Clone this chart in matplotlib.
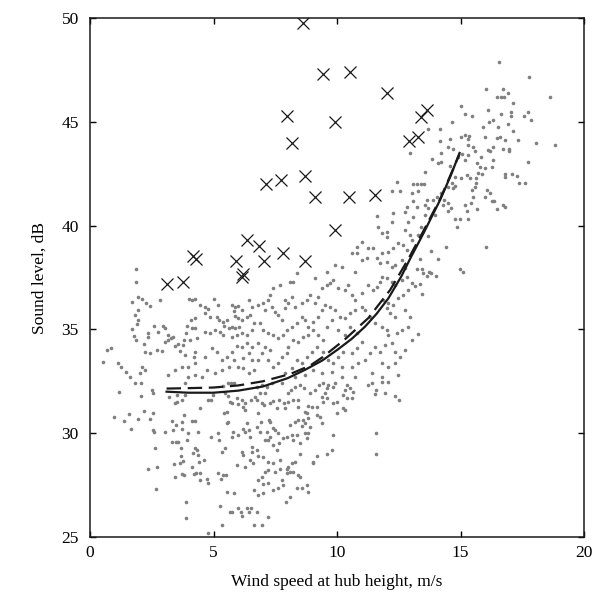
import numpy as np
import matplotlib
matplotlib.use("Agg")
import matplotlib.pyplot as plt

measured = [
    # low wind, upper band
    (1.85, 37.9), (1.85, 37.3), (1.69, 36.34), (1.93, 36.55), (2.09, 36.45), (2.25, 36.29), (2.43, 36.13),
    (2.84, 36.42), (1.96, 35.94), (1.82, 35.7), (1.96, 35.45), (1.89, 35.26), (1.71, 35.0), (1.79, 34.68),
    (1.88, 34.49), (2.2, 34.3), (2.36, 34.65), (2.34, 34.81), (2.58, 35.17), (2.77, 34.89), (2.97, 35.17),
    (3.04, 35.05), (3.15, 34.73), (3.38, 34.65), (3.28, 34.57), (3.58, 34.3), (3.82, 34.49), (3.88, 34.81),
    (3.92, 35.17), (4.12, 35.05), (4.25, 35.05), (4.09, 35.45), (4.25, 35.53), (4.01, 36.45), (4.12, 36.42),
    (4.25, 36.45), (4.46, 36.18), (4.66, 36.06), (4.79, 35.97), (4.66, 35.78), (4.86, 35.62), (5.0, 36.45),
    (5.2, 36.18), (5.13, 35.62), (5.23, 35.45), (5.4, 35.37), (5.54, 35.45), (5.44, 35.17), (5.63, 35.05),
    (5.74, 35.1), (5.88, 35.05), (6.04, 35.1), (5.74, 36.18), (5.88, 36.06), (5.81, 35.9), (5.98, 36.13),
    (6.15, 35.94), (5.88, 35.65), (6.01, 35.53), (6.17, 35.45), (6.35, 35.58), (6.48, 35.7), (6.42, 36.42),
    (6.55, 36.06), (6.62, 35.29), (6.55, 34.97), (6.35, 34.73), (6.15, 34.81), (5.94, 34.73), (5.74, 34.65),
    (5.4, 34.73), (5.27, 34.89), (5.06, 34.97), (4.86, 34.81), (4.66, 34.89), (4.32, 34.57), (4.05, 34.49),
    (3.78, 34.25), (3.65, 33.98), (3.44, 34.2), (3.17, 34.49), (3.04, 34.41), (2.9, 33.98), (2.7, 34.01),
    (2.43, 33.85), (2.23, 33.93), (0.69, 34.01), (0.85, 34.09), (0.54, 33.45), (1.15, 33.4), (1.25, 33.21),
    (1.44, 32.97), (1.62, 32.73), (2.02, 32.89), (2.09, 33.21), (2.23, 33.05), (3.17, 32.81), (3.44, 33.05),
    (3.71, 33.21), (3.98, 33.21), (4.25, 33.37), (4.19, 33.69), (3.85, 33.77), (4.25, 33.93), (4.66, 33.69),
    (4.93, 34.09), (5.13, 33.93), (5.34, 33.53), (5.54, 33.69), (5.74, 33.93), (5.81, 33.53), (6.01, 33.21),
    (6.21, 33.61), (6.42, 33.85), (6.55, 33.53), (6.55, 34.17), (6.35, 34.33), (6.15, 34.17), (5.94, 34.2),
    (5.61, 33.21), (5.34, 33.05), (5.06, 32.89), (4.73, 33.05), (4.52, 32.73), (4.25, 32.81), (3.98, 32.73),
    (6.21, 33.13), (6.42, 32.89), (6.62, 33.05),
    # mid wind, upper band
    (11.67, 39.95), (12.21, 40.19), (12.89, 40.19), (11.81, 39.63), (12.01, 39.71), (12.01, 39.47),
    (12.75, 39.79), (12.96, 39.55), (13.02, 39.31), (11.0, 39.23), (10.8, 38.99), (11.27, 38.91),
    (11.47, 38.91), (11.81, 38.66), (12.08, 38.74), (12.28, 38.91), (12.48, 39.15), (12.69, 39.07),
    (12.82, 38.83), (10.59, 38.66), (10.8, 38.66), (11.0, 38.34), (11.2, 38.42), (11.61, 38.42),
    (11.74, 38.18), (12.01, 38.26), (12.21, 38.02), (12.35, 38.1), (12.62, 38.34), (12.75, 37.94),
    (9.92, 38.1), (10.19, 38.02), (10.73, 37.78), (9.58, 37.78), (9.11, 37.46), (8.37, 37.7), (8.23, 37.3),
    (8.1, 37.3), (7.69, 37.14), (7.42, 36.98), (7.29, 36.66), (7.22, 36.42), (7.02, 36.26), (6.81, 36.18),
    (7.08, 35.94), (7.35, 36.1), (7.49, 35.86), (7.62, 35.7), (7.76, 35.45), (7.89, 36.42), (7.89, 36.02),
    (8.03, 36.26), (8.16, 36.58), (8.3, 36.1), (8.57, 36.26), (8.77, 36.42), (8.91, 36.66), (9.11, 36.26),
    (9.24, 36.58), (9.38, 36.98), (9.58, 37.14), (9.72, 37.22), (9.85, 37.38), (10.05, 36.98), (10.32, 36.9),
    (10.46, 37.14), (10.59, 36.66), (10.73, 36.42), (11.0, 36.74), (11.27, 37.14), (11.47, 36.9),
    (11.61, 37.06), (11.74, 37.3), (11.81, 37.54), (12.01, 37.46), (12.21, 37.3), (12.35, 37.14),
    (12.62, 37.38), (12.82, 37.54), (13.02, 37.22), (12.89, 36.9), (12.69, 36.66), (12.48, 36.5),
    (12.28, 36.18), (12.08, 36.26), (11.88, 36.42), (12.01, 36.02), (12.15, 35.78), (12.35, 35.62),
    (12.75, 35.94), (12.96, 35.62), (12.89, 35.13), (12.62, 34.97), (12.42, 34.81), (12.08, 34.73),
    (12.01, 34.97), (11.81, 35.13), (11.54, 35.29), (11.34, 35.62), (11.13, 35.94), (11.0, 36.1),
    (10.73, 35.94), (10.53, 35.78), (10.32, 35.53), (10.12, 35.62), (9.92, 35.94), (9.72, 36.1),
    (9.51, 36.18), (9.38, 35.94), (9.24, 35.62), (9.04, 35.37), (8.84, 35.13), (8.7, 35.45), (8.57, 35.62),
    (8.37, 35.29), (8.16, 35.13), (7.96, 34.97), (7.83, 34.73), (7.62, 34.57), (7.42, 34.73), (7.22, 34.81),
    (7.02, 34.97), (6.88, 35.29), (6.81, 34.33), (7.08, 34.17), (7.29, 34.01), (6.95, 33.85), (6.81, 33.53),
    (7.22, 33.53), (7.42, 33.21), (7.62, 33.37), (7.76, 33.69), (7.96, 33.85), (8.03, 34.17), (8.23, 34.49),
    (8.43, 34.41), (8.64, 34.65), (8.84, 34.73), (9.04, 34.97), (9.24, 34.73), (9.45, 34.49), (9.58, 35.13),
    (9.78, 35.45), (10.05, 34.97), (10.32, 34.73), (10.53, 35.13), (10.8, 34.81), (11.0, 34.41),
    (10.8, 34.09), (10.59, 33.85), (10.26, 33.93), (10.05, 33.69), (9.85, 33.37), (9.65, 33.53),
    (9.45, 33.93), (9.18, 34.17), (8.97, 33.93), (8.77, 33.69), (8.57, 33.37), (8.37, 33.53), (8.16, 33.13),
    (7.89, 32.89), (8.3, 32.73), (8.7, 32.81), (9.04, 33.05), (9.38, 32.89), (9.78, 32.97), (10.19, 33.21),
    (10.59, 33.21), (10.86, 33.37), (11.13, 33.53), (11.34, 33.85), (11.54, 34.17), (11.74, 33.93),
    (11.94, 34.25), (12.21, 34.33), (12.35, 33.93), (12.55, 33.69), (12.75, 34.01), (13.02, 34.49),
    (11.81, 33.37), (12.08, 33.21), (12.35, 33.37), (11.4, 32.89), (11.81, 32.73), (12.48, 32.81),
    (10.73, 32.73), (10.19, 32.73),
    # high wind
    (16.56, 47.88), (17.78, 47.18), (16.02, 46.58), (16.47, 46.18), (16.64, 46.18), (16.74, 46.18),
    (16.71, 46.57), (16.94, 46.37), (18.61, 46.18), (17.11, 45.89), (15.01, 45.78), (15.18, 45.38),
    (15.48, 45.28), (16.13, 45.57), (16.64, 45.38), (17.05, 45.49), (17.05, 45.28), (17.72, 45.48),
    (17.55, 45.28), (17.86, 45.09), (14.64, 44.98), (14.17, 44.66), (13.67, 44.66), (16.33, 45.09),
    (16.16, 44.98), (16.91, 44.9), (15.89, 44.77), (16.51, 44.77), (17.14, 44.58), (15.02, 44.29),
    (15.18, 44.37), (15.35, 44.32), (15.32, 44.19), (14.58, 44.18), (14.17, 44.08), (16.0, 44.29),
    (16.47, 44.21), (16.6, 44.29), (16.78, 44.1), (17.32, 44.1), (18.07, 44.0), (18.83, 43.89),
    (14.51, 43.77), (14.71, 43.68), (15.32, 43.89), (15.52, 43.77), (16.1, 43.65), (16.33, 43.81),
    (16.7, 43.68), (16.97, 43.68), (16.97, 43.57), (14.21, 43.49), (15.05, 43.45), (15.32, 43.41),
    (15.59, 43.57), (15.83, 43.29), (16.2, 43.57), (16.33, 43.17), (13.86, 43.2), (14.08, 43.0),
    (14.21, 43.08), (14.89, 43.29), (15.18, 43.17), (15.66, 43.0), (15.79, 42.84), (16.0, 42.76),
    (16.26, 42.81), (17.72, 43.08), (14.58, 42.88), (14.78, 42.36), (15.02, 42.28), (15.25, 42.44),
    (15.39, 42.28), (15.72, 42.52), (15.86, 42.49), (15.62, 42.28), (13.56, 42.57), (13.23, 42.01),
    (13.4, 42.01), (13.54, 42.0), (14.64, 42.07), (14.78, 41.91), (15.62, 42.07), (15.59, 41.88),
    (16.06, 41.72), (16.2, 41.56), (16.78, 42.47), (16.78, 42.36), (17.07, 42.47), (17.28, 42.39),
    (17.37, 42.07), (17.59, 42.07), (13.29, 41.67), (14.51, 41.85), (14.68, 41.8), (15.48, 41.72),
    (14.21, 41.56), (14.04, 41.37), (13.63, 41.24), (13.9, 41.24), (14.31, 41.24), (14.51, 41.11),
    (15.52, 41.37), (15.97, 41.4), (16.29, 41.19), (16.37, 41.19), (16.7, 41.0), (16.78, 40.89),
    (16.47, 40.79), (13.56, 41.0), (13.7, 40.84), (14.27, 41.0), (14.62, 40.84), (14.51, 40.68),
    (15.16, 40.97), (15.43, 41.08), (15.66, 40.79), (15.25, 40.68), (13.23, 40.92), (13.56, 40.52),
    (13.97, 40.52), (14.78, 40.31), (14.97, 40.31), (15.32, 40.31),
    (13.4, 39.92), (14.87, 39.92), (13.29, 39.55), (13.67, 39.5), (14.4, 38.99), (16.05, 38.99),
    (13.79, 38.78), (13.35, 38.38), (14.08, 38.38), (13.23, 37.89), (13.43, 37.89), (13.46, 37.7),
    (13.73, 37.78), (13.81, 37.7), (13.65, 37.59), (14.0, 37.59), (14.98, 37.89), (15.08, 37.78),
    (13.16, 37.09), (13.34, 37.19), (13.43, 36.69), (13.27, 34.78),
    (12.96, 43.5), (12.42, 42.09), (12.21, 41.68), (12.55, 41.68), (13.09, 41.99), (13.02, 41.58),
    (13.06, 41.2), (12.85, 40.88), (12.75, 40.67), (12.28, 40.59), (11.61, 40.46), (13.09, 40.43),
    # low wind, lower band
    (1.82, 32.4), (2.06, 32.4), (2.49, 32.08), (2.56, 31.92), (1.17, 32.0), (2.06, 31.79), (3.2, 31.73),
    (3.44, 31.44), (3.51, 31.52), (3.74, 31.6), (3.84, 31.84), (3.51, 31.84), (3.84, 32.4), (2.2, 31.08),
    (2.56, 30.99), (2.43, 30.67), (1.93, 30.68), (1.59, 30.91), (1.39, 30.59), (0.98, 30.79), (1.68, 30.18),
    (2.56, 30.15), (2.6, 30.07), (3.03, 30.07), (3.3, 30.6), (3.37, 30.15), (3.47, 30.39), (3.74, 30.55),
    (3.82, 30.87), (4.11, 30.6), (4.25, 30.6), (3.71, 30.18), (3.95, 29.99), (4.36, 30.07), (4.45, 31.2),
    (4.79, 31.6), (4.9, 31.6), (4.99, 31.84), (5.4, 32.27), (5.6, 32.4), (5.71, 32.4), (5.84, 32.4),
    (5.46, 31.92), (5.57, 31.79), (5.73, 31.44), (5.67, 31.52), (5.53, 31.04), (5.44, 30.95), (5.94, 31.68),
    (6.0, 31.4), (6.14, 31.6), (6.21, 31.28), (6.27, 31.44), (6.52, 31.6), (6.68, 31.76), (6.27, 31.12),
    (6.34, 30.47), (6.21, 30.18), (6.27, 30.07), (6.43, 30.15), (6.48, 29.83), (6.0, 29.91), (5.8, 30.07),
    (5.73, 29.83), (5.53, 30.47), (5.6, 30.55), (5.19, 29.99), (5.22, 29.67), (4.9, 29.8), (5.46, 29.27),
    (5.36, 29.11), (3.33, 29.59), (3.47, 29.59), (3.57, 29.59), (3.91, 29.67), (2.63, 29.27), (3.68, 29.27),
    (4.25, 29.27), (4.32, 29.19), (4.18, 29.03), (4.38, 28.95), (4.63, 28.71), (4.41, 28.63), (3.68, 28.9),
    (3.78, 28.66), (3.64, 28.55), (3.41, 28.5), (3.44, 27.91), (3.74, 28.02), (3.82, 27.99), (4.11, 28.39),
    (4.22, 28.02), (4.28, 28.07), (4.45, 28.1), (4.45, 27.74), (4.73, 27.78), (4.76, 27.58), (5.19, 28.1),
    (5.4, 27.99), (5.49, 27.99), (5.3, 27.78), (2.7, 28.39), (2.36, 28.27), (2.67, 27.3), (3.87, 26.7),
    (3.87, 25.9), (5.26, 26.49), (5.53, 27.18), (5.84, 27.1), (5.68, 26.22), (5.76, 26.22), (6.0, 26.38),
    (6.11, 26.22), (6.17, 26.01), (6.34, 26.38), (6.52, 26.38), (6.43, 26.22), (6.65, 27.26), (6.65, 25.58),
    (5.33, 25.58), (4.76, 25.21), (5.94, 28.47), (6.27, 28.39), (6.21, 28.95), (6.14, 29.11), (6.54, 29.11),
    (6.48, 28.71), (6.61, 28.58), (6.54, 29.35),
    # mid wind, lower band
    (6.75, 32.24), (6.95, 32.32), (7.15, 32.24), (7.35, 32.4), (7.76, 32.4), (6.88, 31.92), (7.08, 31.92),
    (8.03, 31.92), (8.14, 32.08), (8.3, 32.24), (8.5, 32.32), (8.68, 32.16), (8.91, 31.92), (9.11, 32.08),
    (9.27, 32.32), (9.45, 32.4), (9.58, 32.16), (9.65, 32.32), (9.85, 32.24), (9.92, 32.4), (9.51, 31.92),
    (9.38, 31.76), (9.58, 31.68), (9.45, 31.52), (9.85, 31.44), (9.99, 31.52), (10.39, 32.32), (10.32, 32.08),
    (10.53, 32.16), (10.66, 32.0), (10.26, 31.84), (10.39, 31.68), (10.59, 31.68), (10.26, 31.2),
    (10.32, 31.12), (9.99, 30.99), (11.27, 32.32), (11.4, 32.4), (11.57, 32.08), (11.54, 31.89),
    (11.81, 32.48), (12.08, 32.48), (11.94, 31.92), (12.35, 31.79), (12.51, 31.6), (6.75, 31.6),
    (6.95, 31.44), (7.06, 31.36), (7.29, 31.47), (7.42, 31.56), (7.65, 31.6), (7.87, 31.47), (8.03, 31.52),
    (8.23, 31.6), (8.43, 31.6), (8.41, 31.28), (8.84, 31.31), (8.97, 31.28), (9.18, 31.28), (8.7, 31.04),
    (8.77, 30.95), (7.89, 31.2), (7.56, 31.2), (6.81, 30.95), (6.92, 30.55), (6.75, 30.31), (6.88, 30.07),
    (7.15, 30.07), (7.29, 30.55), (7.25, 30.63), (7.42, 30.23), (7.49, 30.15), (7.62, 29.99), (7.29, 29.83),
    (7.08, 29.67), (7.22, 29.67), (7.42, 29.43), (7.56, 29.19), (7.65, 29.51), (7.83, 29.75), (7.96, 29.83),
    (8.16, 29.91), (8.23, 29.67), (8.1, 30.39), (8.3, 30.55), (8.43, 30.63), (8.57, 30.34), (8.7, 30.47),
    (8.64, 30.63), (8.84, 30.71), (8.91, 30.31), (9.18, 30.87), (9.31, 30.79), (9.38, 30.47), (8.7, 29.99),
    (8.84, 29.99), (8.37, 29.91), (8.5, 29.51), (8.77, 29.75), (9.85, 29.91), (9.81, 29.19), (9.58, 29.0),
    (9.18, 28.9), (9.04, 28.63), (9.04, 28.55), (8.5, 29.0), (8.3, 28.63), (8.16, 28.55), (8.03, 28.35),
    (8.1, 28.15), (7.96, 28.26), (8.43, 27.99), (8.5, 27.91), (8.23, 28.15), (7.96, 28.1), (7.69, 28.71),
    (7.42, 28.55), (7.22, 28.63), (7.02, 28.87), (6.81, 28.9), (6.75, 29.19), (7.69, 28.26), (7.49, 28.15),
    (7.22, 28.23), (7.08, 28.15), (6.95, 27.91), (6.81, 27.74), (7.02, 27.55), (7.22, 27.58), (7.42, 27.26),
    (7.62, 27.34), (7.83, 27.5), (7.76, 27.74), (8.37, 27.34), (8.57, 27.34), (8.77, 27.5), (8.81, 27.18),
    (8.1, 26.91), (7.92, 26.7), (7.02, 27.1), (6.81, 27.02), (6.75, 26.22), (7.22, 25.98), (6.95, 25.58),
    (11.57, 29.99), (11.57, 29.0),
]
wind_speed = np.array([p[0] for p in measured])
sound_level = np.array([p[1] for p in measured])

# samples marked as outliers
out_wind = [3.13, 3.78, 4.18, 4.29, 6.21, 6.17, 5.91, 6.37, 6.86, 7.06, 7.80, 8.72,
            7.13, 7.73, 8.70, 9.12, 7.99, 8.18, 8.61, 9.42, 9.93, 9.91, 10.47, 10.53,
            11.55, 12.01, 12.90, 13.28, 13.39, 13.66]
out_level = [37.19, 37.28, 38.55, 38.41, 37.67, 37.52, 38.28, 39.31, 39.0, 38.28, 38.7, 38.29,
             41.99, 42.18, 42.41, 41.38, 45.29, 43.99, 49.77, 47.30, 44.98, 39.79, 41.38, 47.40,
             41.47, 46.37, 44.09, 44.28, 45.22, 45.57]

# fitted curves
fit_wind = [3.1, 4.0, 5.0, 6.0, 7.0, 8.0, 8.7, 9.4, 10.05, 10.6, 11.13, 11.6, 12.08, 12.6, 13.0,
            13.5, 14.17, 14.6, 14.96]
fit_level = [32.0, 31.95, 31.95, 32.05, 32.25, 32.65, 33.05, 33.5, 34.05, 34.55, 35.13, 35.75,
             36.5, 37.55, 38.5, 39.63, 41.23, 42.4, 43.5]
fit2_wind = [3.1, 4.0, 5.0, 6.0, 7.0, 8.1, 8.9, 9.4, 10.3, 11.27, 12.15, 12.89, 13.5, 14.2, 14.96]
fit2_level = [32.15, 32.17, 32.2, 32.3, 32.5, 32.85, 33.25, 33.65, 34.5, 35.55, 36.9, 38.4,
              39.75, 41.35, 43.45]

plt.rcParams['font.family'] = 'Liberation Serif'
fig = plt.figure(figsize=(6.04, 6.0), dpi=100)
ax = fig.add_axes([0.149, 0.105, 0.818, 0.865])

ax.plot(wind_speed, sound_level, 'o', ms=2.6, mec='none', color='#808080', zorder=1)
ax.plot(fit2_wind, fit2_level, '--', color='#1a1a1a', lw=1.6, dashes=(6.5, 3), zorder=2)
ax.plot(fit_wind, fit_level, '-', color='#1a1a1a', lw=1.6, zorder=3)
ax.plot(out_wind, out_level, 'x', ms=8.5, mew=0.9, color='#1a1a1a', zorder=4)

ax.set_xlim(0, 20)
ax.set_ylim(25, 50)
ax.set_xticks([0, 5, 10, 15, 20])
ax.set_yticks([25, 30, 35, 40, 45, 50])
ax.tick_params(direction='in', length=4, width=1, top=True, right=True, labelsize=12.5, pad=6)
ax.tick_params(axis='y', pad=8)
for s in ax.spines.values():
    s.set_linewidth(1.1)
    s.set_color('#1a1a1a')
ax.set_xlabel('Wind speed at hub height, m/s', fontsize=12.5, labelpad=9)
ax.set_ylabel('Sound level, dB', fontsize=12.5, labelpad=10)

fig.savefig('out.png', dpi=100)
